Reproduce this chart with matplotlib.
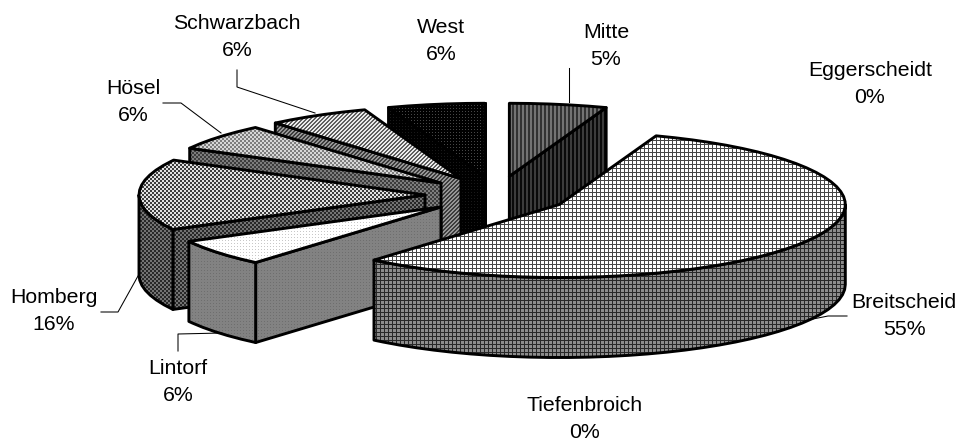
import numpy as np
import matplotlib
matplotlib.use('Agg')
import matplotlib.pyplot as plt
from matplotlib.patches import Polygon

plt.rcParams['font.family'] = ['Liberation Sans', 'DejaVu Sans']

districts = ['Mitte', 'Eggerscheidt', 'Breitscheid', 'Tiefenbroich', 'Lintorf',
             'Homberg', 'Hösel', 'Schwarzbach', 'West']
shares = [5, 0, 55, 0, 6, 16, 6, 6, 6]

# back to front
draw_order = ['West', 'Mitte', 'Schwarzbach', 'Hösel', 'Homberg', 'Lintorf', 'Breitscheid']

W, H = 958, 440
CX, CY = 497, 195
RX, RY = 286, 73
DEPTH = 80
EXPLODE_X, EXPLODE_Y = 72, 19


def tile(rows):
    t = np.array(rows, dtype=np.uint8)
    ny = H // t.shape[0] + 1
    nx = W // t.shape[1] + 1
    return np.tile(t, (ny, nx))[:H, :W]


def grid(fg, bg):
    return tile([[fg, fg, fg, fg], [fg, bg, bg, bg], [fg, bg, bg, bg], [fg, bg, bg, bg]])


def checker(a, b):
    return tile([[a, a, b, b], [a, a, b, b], [b, b, a, a], [b, b, a, a]])


def diagonal(a, b):
    return tile([[a, a, b, b], [a, b, b, a], [b, b, a, a], [b, a, a, b]])


def dots(fg, bg):
    return tile([[fg, bg, bg], [bg, bg, bg], [bg, bg, bg]])


def stripes(a, b):
    return tile([[a, a, b, b]])


top_fill = {
    'Mitte': stripes(50, 115),
    'Breitscheid': grid(70, 255),
    'Lintorf': dots(200, 255),
    'Homberg': checker(60, 225),
    'Hösel': checker(125, 215),
    'Schwarzbach': diagonal(95, 235),
    'West': dots(70, 0),
}
side_fill = {
    'Mitte': stripes(10, 60),
    'Breitscheid': grid(40, 140),
    'Lintorf': dots(110, 130),
    'Homberg': checker(40, 115),
    'Hösel': checker(60, 125),
    'Schwarzbach': diagonal(60, 150),
    'West': dots(25, 0),
}

# label centres and leader lines, in pixels
label_pos = {
    'Mitte': (606, 46), 'Eggerscheidt': (870, 84), 'Breitscheid': (904, 316),
    'Tiefenbroich': (585, 419), 'Lintorf': (178, 382), 'Homberg': (54, 311),
    'Hösel': (133, 102), 'Schwarzbach': (237, 37), 'West': (441, 41),
}
leaders = {
    'Mitte': [(569, 68), (569, 102)],
    'Breitscheid': [(847, 316), (828, 316), (813, 319)],
    'Lintorf': [(178, 351), (178, 334), (222, 333)],
    'Homberg': [(101, 312), (118, 312), (138, 276)],
    'Hösel': [(163, 103), (181, 103), (221, 133)],
    'Schwarzbach': [(237, 70), (237, 87), (315, 113)],
}


def view_angle(theta):
    # the tilted view stretches the angles a little away from 12 o'clock
    return theta + 4.5 * np.sqrt(np.abs(np.sin(np.radians(theta / 2))))


def rim(theta, ox, oy):
    t = np.radians(theta)
    return np.column_stack([ox + RX * np.sin(t), oy - RY * np.cos(t)])


def span(lo, hi):
    return np.array(np.arange(lo, hi, 4.0).tolist() + [hi])


def face(ax, pts, fill, z):
    outline = Polygon(pts, closed=True, fc='none', ec='black', lw=2.1, joinstyle='round', zorder=z + 0.5)
    ax.add_patch(outline)
    im = ax.imshow(fill, cmap='gray', vmin=0, vmax=255, extent=(0, W, H, 0),
                   interpolation='nearest', aspect='auto', zorder=z)
    im.set_clip_path(outline)


fig = plt.figure(figsize=(W / 100, H / 100), dpi=100)
ax = fig.add_axes([0, 0, 1, 1])

angles = {}
pos = 0
for name, share in zip(districts, shares):
    angles[name] = (view_angle(pos), view_angle(pos + share * 3.6))
    pos += share * 3.6

z = 2
for name in draw_order:
    a0, a1 = angles[name]
    mid = np.radians((a0 + a1) / 2)
    ox = CX + EXPLODE_X * np.sin(mid)
    oy = CY - EXPLODE_Y * np.cos(mid)
    apex = np.array([[ox, oy]])
    down = np.array([[0, DEPTH]])
    arc = rim(span(a0, a1), ox, oy)

    # radial walls that face the viewer
    if np.sin(np.radians(a0)) < 0:
        wall = np.vstack([apex, arc[:1], arc[:1] + down, apex + down])
        face(ax, wall, side_fill[name], z)
        z += 1
    if np.sin(np.radians(a1)) > 0:
        wall = np.vstack([apex, arc[-1:], arc[-1:] + down, apex + down])
        face(ax, wall, side_fill[name], z)
        z += 1

    # curved outer wall on the front half
    lo, hi = max(a0, 90), min(a1, 270)
    if hi > lo:
        front = rim(span(lo, hi), ox, oy)
        wall = np.vstack([front, front[::-1] + down])
        face(ax, wall, side_fill[name], z)
        z += 1

    face(ax, np.vstack([apex, arc]), top_fill[name], z)
    z += 1

for name, share in zip(districts, shares):
    x, y = label_pos[name]
    ax.text(x, y, f'{name}\n{share}%', ha='center', va='center', fontsize=15.3,
            linespacing=1.52, color='black', zorder=50)
    if name in leaders:
        xs, ys = zip(*leaders[name])
        ax.plot(xs, ys, color='black', lw=0.75, zorder=49)

ax.set_xlim(0, W)
ax.set_ylim(H, 0)
ax.axis('off')

fig.savefig('out.png', dpi=100)
